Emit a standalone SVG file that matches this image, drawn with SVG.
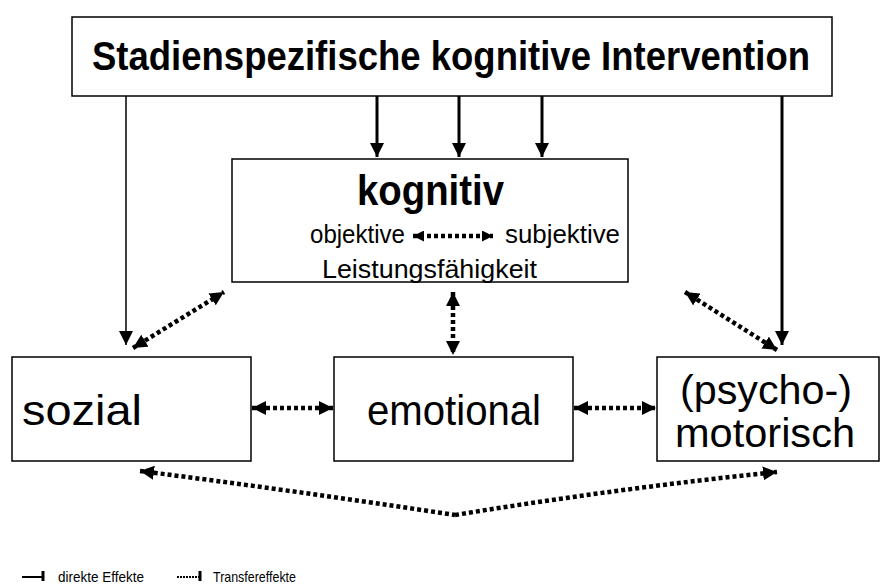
<svg xmlns="http://www.w3.org/2000/svg" width="883" height="586" viewBox="0 0 883 586">
<style>
.box{fill:#fff;stroke:#000;stroke-width:1.5}
.t{font-family:"Liberation Sans",Arial,sans-serif;fill:#000}
.b{font-weight:bold}
.solid{stroke:#000;fill:none}
.dot{stroke:#000;fill:none;stroke-width:4.5;stroke-dasharray:4 3}
</style>
<defs>
<marker id="ah" markerUnits="userSpaceOnUse" markerWidth="14" markerHeight="14" refX="14" refY="7" orient="auto-start-reverse" viewBox="0 0 14 14"><path d="M0,0 L14,7 L0,14 z" fill="#000"/></marker>
<marker id="ahs" markerUnits="userSpaceOnUse" markerWidth="11" markerHeight="11" refX="11" refY="5.5" orient="auto-start-reverse" viewBox="0 0 11 11"><path d="M0,0 L11,5.5 L0,11 z" fill="#000"/></marker>
</defs>
<g id="node-intervention">
<rect class="box" x="72" y="17" width="760" height="79"/>
<text class="t b" x="92" y="70" font-size="40" textLength="718" lengthAdjust="spacingAndGlyphs">Stadienspezifische kognitive Intervention</text>
</g>
<g id="node-kognitiv">
<rect class="box" x="232" y="159" width="396" height="123"/>
<text class="t b" x="357" y="205" font-size="43" textLength="147" lengthAdjust="spacingAndGlyphs">kognitiv</text>
<text class="t" x="310" y="243" font-size="25" textLength="95" lengthAdjust="spacingAndGlyphs">objektive</text>
<text class="t" x="505" y="243" font-size="25" textLength="115" lengthAdjust="spacingAndGlyphs">subjektive</text>
<text class="t" x="322" y="278" font-size="25" textLength="215" lengthAdjust="spacingAndGlyphs">Leistungsfähigkeit</text>
<line class="dot" x1="413" y1="236" x2="493" y2="236" stroke-width="3.5" stroke-dasharray="3 2.5" marker-start="url(#ahs)" marker-end="url(#ahs)"/>
</g>
<g id="node-sozial">
<rect class="box" x="12" y="357" width="239" height="104"/>
<text class="t" x="22" y="425" font-size="43" textLength="120" lengthAdjust="spacingAndGlyphs">sozial</text>
</g>
<g id="node-emotional">
<rect class="box" x="334" y="357" width="239" height="104"/>
<text class="t" x="367" y="425" font-size="43" textLength="174" lengthAdjust="spacingAndGlyphs">emotional</text>
</g>
<g id="node-motorisch">
<rect class="box" x="657" y="357" width="222" height="104"/>
<text class="t" x="680" y="404" font-size="40" textLength="172" lengthAdjust="spacingAndGlyphs">(psycho-)</text>
<text class="t" x="675" y="447" font-size="40" textLength="180" lengthAdjust="spacingAndGlyphs">motorisch</text>
</g>
<g id="connectors">
<line class="solid" x1="126" y1="96" x2="126" y2="345" stroke-width="1.5" marker-end="url(#ah)"/>
<line class="solid" x1="782" y1="96" x2="782" y2="345" stroke-width="3" marker-end="url(#ah)"/>
<line class="solid" x1="377" y1="96" x2="377" y2="157" stroke-width="3" marker-end="url(#ah)"/>
<line class="solid" x1="459" y1="96" x2="459" y2="157" stroke-width="3" marker-end="url(#ah)"/>
<line class="solid" x1="542" y1="96" x2="542" y2="157" stroke-width="3" marker-end="url(#ah)"/>
<line class="dot" x1="133" y1="348" x2="224" y2="292" marker-start="url(#ah)" marker-end="url(#ah)"/>
<line class="dot" x1="685" y1="292" x2="777" y2="350" marker-start="url(#ah)" marker-end="url(#ah)"/>
<line class="dot" x1="453" y1="292" x2="453" y2="355" marker-start="url(#ah)" marker-end="url(#ah)"/>
<line class="dot" x1="252" y1="408" x2="333" y2="408" marker-start="url(#ah)" marker-end="url(#ah)"/>
<line class="dot" x1="574" y1="408" x2="656" y2="408" marker-start="url(#ah)" marker-end="url(#ah)"/>
<path class="dot" d="M140,471 Q290,490 455,515" marker-start="url(#ah)"/>
<path class="dot" d="M455,515 Q620,488 777,472" marker-end="url(#ah)"/>
</g>
<g id="legend">
<line class="solid" x1="22" y1="577" x2="43" y2="577" stroke-width="2"/>
<line class="solid" x1="43" y1="571" x2="43" y2="581" stroke-width="3"/>
<text class="t" x="58" y="582" font-size="15" textLength="86" lengthAdjust="spacingAndGlyphs">direkte Effekte</text>
<line class="solid" x1="177" y1="577" x2="199" y2="577" stroke-width="2" stroke-dasharray="2 1"/>
<line class="solid" x1="200" y1="571" x2="200" y2="581" stroke-width="3"/>
<text class="t" x="213" y="582" font-size="15" textLength="83" lengthAdjust="spacingAndGlyphs">Transfereffekte</text>
</g>
</svg>
